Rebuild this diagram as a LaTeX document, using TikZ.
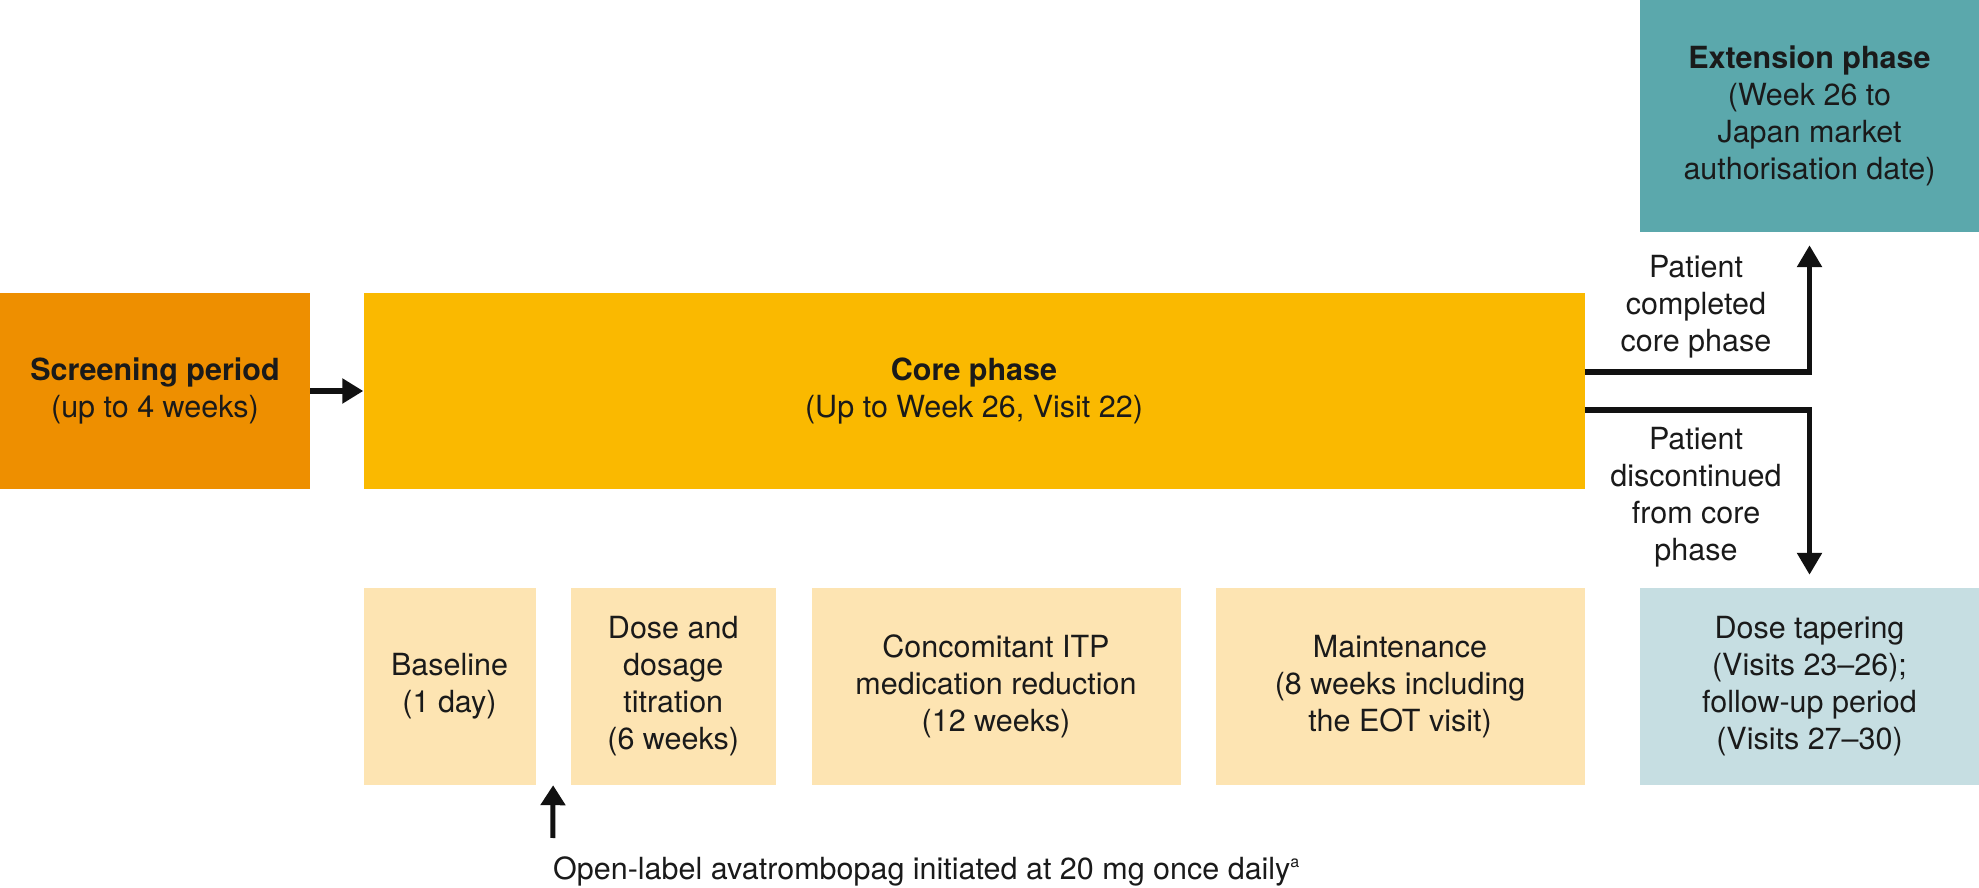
\documentclass[tikz,border=0pt]{standalone}
\usepackage{fontspec}
\setmainfont{TeX Gyre Heros}
\usetikzlibrary{arrows.meta,calc}
\definecolor{scrcol}{RGB}{238,143,0}
\definecolor{corecol}{RGB}{250,185,0}
\definecolor{extcol}{RGB}{91,168,172}
\definecolor{subcol}{RGB}{253,228,178}
\definecolor{tapcol}{RGB}{198,222,226}
\definecolor{txt}{RGB}{26,26,26}
\definecolor{arrcol}{RGB}{17,17,17}
\begin{document}
\begin{tikzpicture}[x=1pt,y=1pt,
  box/.style={rectangle, inner sep=0pt, align=center, text=txt,
    font=\fontsize{30.5}{37}\selectfont},
  lbl/.style={inner sep=0pt, align=center, text=txt,
    font=\fontsize{30.5}{37}\selectfont},
  bigarr/.style={draw=arrcol, line width=6pt,
    -{Triangle[length=21pt,width=24pt]}},
  sidearr/.style={draw=arrcol, line width=5.5pt,
    -{Triangle[length=22pt,width=24pt]}},
  footarr/.style={draw=arrcol, line width=5pt,
    -{Triangle[length=20pt,width=24pt]}}]
\useasboundingbox (0,0) rectangle (1979,887);
% main boxes
\node[box, fill=scrcol, minimum width=310pt, minimum height=196pt] (scr) at (155,496)
  {\textbf{Screening period}\\(up to 4 weeks)};
\node[box, fill=corecol, minimum width=1221pt, minimum height=196pt] (core) at (974,496)
  {\textbf{Core phase}\\(Up to Week 26, Visit 22)};
\node[box, fill=extcol, minimum width=339pt, minimum height=232pt] (ext) at (1809.5,771)
  {\textbf{Extension phase}\\(Week 26 to\\Japan market\\authorisation date)};
% sub boxes
\node[box, fill=subcol, minimum width=172pt, minimum height=197pt] (base) at (449.5,200.5)
  {Baseline\\(1 day)};
\node[box, fill=subcol, minimum width=205pt, minimum height=197pt] (dose) at (673.25,200.5)
  {Dose and\\dosage\\titration\\(6 weeks)};
\node[box, fill=subcol, minimum width=369pt, minimum height=197pt] (conc) at (996,200.5)
  {Concomitant ITP\\medication reduction\\(12 weeks)};
\node[box, fill=subcol, minimum width=369pt, minimum height=197pt] (maint) at (1400,200.5)
  {Maintenance\\(8 weeks including\\the EOT visit)};
\node[box, fill=tapcol, minimum width=339pt, minimum height=197pt] (taper) at (1809.5,200.5)
  {Dose tapering\\(Visits 23--26);\\follow-up period\\(Visits 27--30)};
% labels
\node[lbl] (lcomp) at (1696,580) {Patient\\completed\\core phase};
\node[lbl] (ldisc) at (1696,390) {Patient\\discontinued\\from core\\phase};
\node[lbl, anchor=base west] (foot) at (553,8)
  {Open-label avatrombopag initiated at 20 mg once daily\raisebox{12pt}{\fontsize{16}{16}\selectfont a}};
% connectors
\draw[bigarr] (scr.east) -- (core.west);
\draw[sidearr] ([yshift=19pt]core.east) -| ([yshift=-13pt]ext.south);
\draw[sidearr] ([yshift=-19pt]core.east) -| ([yshift=13pt]taper.north);
\coordinate (ftip) at ($(base.south east)!0.5!(dose.south west)$);
\coordinate (ftail) at (552.75,49);
\draw[footarr] (ftail) -- (ftip);
\end{tikzpicture}
\end{document}
